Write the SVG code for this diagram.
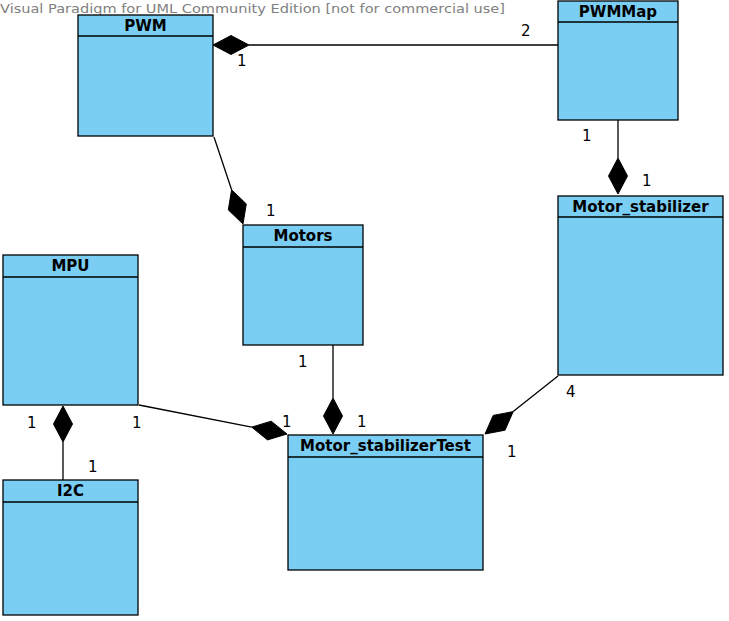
<svg xmlns="http://www.w3.org/2000/svg" width="729" height="621" viewBox="0 0 729 621">
<style>
.box{fill:#7ACEF4;stroke:#000;stroke-width:1.3}
.div{stroke:#000;stroke-width:1.3}
.title{font-family:"DejaVu Sans",sans-serif;font-size:15px;font-weight:bold;text-anchor:middle;fill:#000}
.lbl{font-family:"DejaVu Sans",sans-serif;font-size:15px;fill:#000}
.ln{stroke:#000;stroke-width:1.3;fill:none}
.dia{fill:#000;stroke:#000;stroke-width:1}
.wm{font-family:"DejaVu Sans",sans-serif;font-size:13px;fill:#808080}
</style>
<rect width="729" height="621" fill="#fff"/>
<text class="wm" x="0" y="13" textLength="505" lengthAdjust="spacingAndGlyphs">Visual Paradigm for UML Community Edition [not for commercial use]</text>
<g id="PWM"><rect class="box" x="78" y="15" width="135" height="121"/><line class="div" x1="78" y1="36" x2="213" y2="36"/><text class="title" x="145.5" y="31">PWM</text></g>
<g id="PWMMap"><rect class="box" x="558" y="1" width="120" height="119"/><line class="div" x1="558" y1="22" x2="678" y2="22"/><text class="title" x="618" y="17">PWMMap</text></g>
<g id="Motor_stabilizer"><rect class="box" x="558" y="196" width="165" height="179"/><line class="div" x1="558" y1="217" x2="723" y2="217"/><text class="title" x="640.5" y="212">Motor_stabilizer</text></g>
<g id="Motors"><rect class="box" x="243" y="225" width="120" height="120"/><line class="div" x1="243" y1="247" x2="363" y2="247"/><text class="title" x="303" y="241">Motors</text></g>
<g id="MPU"><rect class="box" x="3" y="255" width="135" height="150"/><line class="div" x1="3" y1="277" x2="138" y2="277"/><text class="title" x="70.5" y="271">MPU</text></g>
<g id="I2C"><rect class="box" x="3" y="480" width="135" height="135"/><line class="div" x1="3" y1="502" x2="138" y2="502"/><text class="title" x="70.5" y="496">I2C</text></g>
<g id="Motor_stabilizerTest"><rect class="box" x="288" y="435" width="195" height="135"/><line class="div" x1="288" y1="457" x2="483" y2="457"/><text class="title" x="385.5" y="451">Motor_stabilizerTest</text></g>
<g id="connectors">
<line class="ln" x1="249" y1="45" x2="558" y2="45"/>
<polygon class="dia" points="213,45 231,35.5 249,45 231,54.5"/>
<text class="lbl" x="237" y="66">1</text>
<text class="lbl" x="521" y="36">2</text>
<line class="ln" x1="214" y1="137" x2="231.6" y2="189.8"/>
<polygon class="dia" points="243,224 246.3,203.9 231.6,189.8 228.3,209.9"/>
<text class="lbl" x="266" y="216">1</text>
<line class="ln" x1="618" y1="120" x2="618" y2="158"/>
<polygon class="dia" points="618,194 627.5,176 618,158 608.5,176"/>
<text class="lbl" x="582" y="141">1</text>
<text class="lbl" x="642" y="186">1</text>
<line class="ln" x1="63" y1="442" x2="63" y2="480"/>
<polygon class="dia" points="63,406 72.5,424 63,442 53.5,424"/>
<text class="lbl" x="27" y="428">1</text>
<text class="lbl" x="88" y="472">1</text>
<line class="ln" x1="139" y1="405" x2="251.7" y2="427.1"/>
<polygon class="dia" points="287,434 271.2,421.2 251.7,427.1 267.5,439.9"/>
<text class="lbl" x="132" y="428">1</text>
<text class="lbl" x="282" y="427">1</text>
<line class="ln" x1="333" y1="345" x2="333" y2="398"/>
<polygon class="dia" points="333,434 342.5,416 333,398 323.5,416"/>
<text class="lbl" x="298" y="367">1</text>
<text class="lbl" x="357" y="427">1</text>
<line class="ln" x1="558" y1="376" x2="513.2" y2="411.6"/>
<polygon class="dia" points="485,434 505,430.2 513.2,411.6 493.2,415.4"/>
<text class="lbl" x="566" y="397">4</text>
<text class="lbl" x="507" y="457">1</text>
</g>
</svg>
